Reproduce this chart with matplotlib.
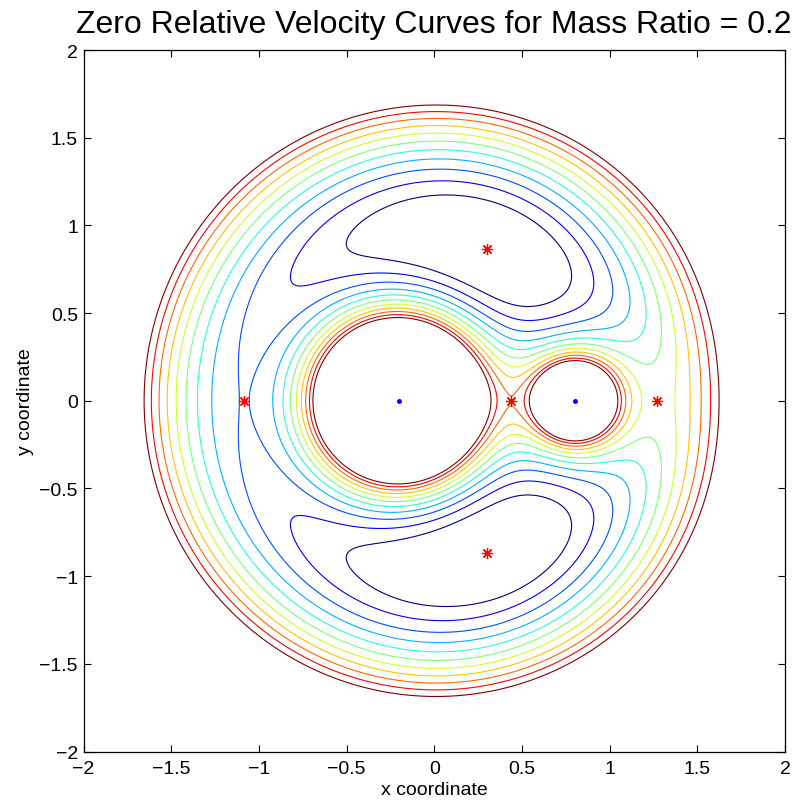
import numpy as np
import matplotlib
matplotlib.use("Agg")
import matplotlib.pyplot as plt

# ---- data ----
mass_ratio = 0.2
contour_levels = [1.50, 1.55, 1.60, 1.65, 1.70, 1.75, 1.80, 1.85, 1.90, 1.95, 2.00]
lagrange_x = [0.438, 1.271, -1.083, 0.3, 0.3]
lagrange_y = [0.0, 0.0, 0.0, 0.866, -0.866]
primary_x = [-0.2, 0.8]
primary_y = [0.0, 0.0]
ticks = [-2, -1.5, -1, -0.5, 0, 0.5, 1, 1.5, 2]
tick_labels = ["\u22122", "\u22121.5", "\u22121", "\u22120.5", "0", "0.5", "1", "1.5", "2"]
title_text = "Zero Relative Velocity Curves for Mass Ratio = 0.2"
xlabel_text = "x coordinate"
ylabel_text = "y coordinate"

plt.rcParams['font.family'] = ['Liberation Sans', 'DejaVu Sans']

# potential field (effective potential of the restricted three-body problem)
g = np.linspace(-2, 2, 999)
X, Y = np.meshgrid(g, g)
mu = mass_ratio
r1 = np.sqrt((X + mu) ** 2 + Y ** 2)
r2 = np.sqrt((X - 1 + mu) ** 2 + Y ** 2)
Z = 0.5 * (X ** 2 + Y ** 2) + (1 - mu) / r1 + mu / r2

fig = plt.figure(figsize=(7.97, 8.04), dpi=100)
W, H = 797, 804
ax = fig.add_axes([83.5 / W, (H - 752.5) / H, 701.5 / W, 701.5 / H])

ax.contour(X, Y, Z, levels=contour_levels, cmap='jet',
           vmin=contour_levels[0], vmax=contour_levels[-1], linewidths=0.8)
ax.plot(lagrange_x, lagrange_y, linestyle='none', marker=(8, 2, 0),
        color='red', markersize=8, markeredgewidth=0.9)
ax.plot(primary_x, primary_y, linestyle='none', marker='o',
        color='blue', markersize=2.5)

ax.set_xlim(-2, 2)
ax.set_ylim(-2, 2)
ax.set_xticks(ticks)
ax.set_xticklabels(tick_labels)
ax.set_yticks(ticks)
ax.set_yticklabels(tick_labels)
ax.tick_params(direction='in', length=5, width=0.8, top=True, right=True,
               labelsize=14)
ax.tick_params(axis='x', pad=6)
ax.tick_params(axis='y', pad=4)
for s in ax.spines.values():
    s.set_linewidth(0.9)

ax.set_title(title_text, fontsize=23, pad=12.7)
ax.set_xlabel(xlabel_text, fontsize=14)
ax.set_ylabel(ylabel_text, fontsize=14)
ax.xaxis.set_label_coords(0.5, -0.0425)
ax.yaxis.set_label_coords(-0.071, 0.5)

fig.savefig("out.png", dpi=100)
